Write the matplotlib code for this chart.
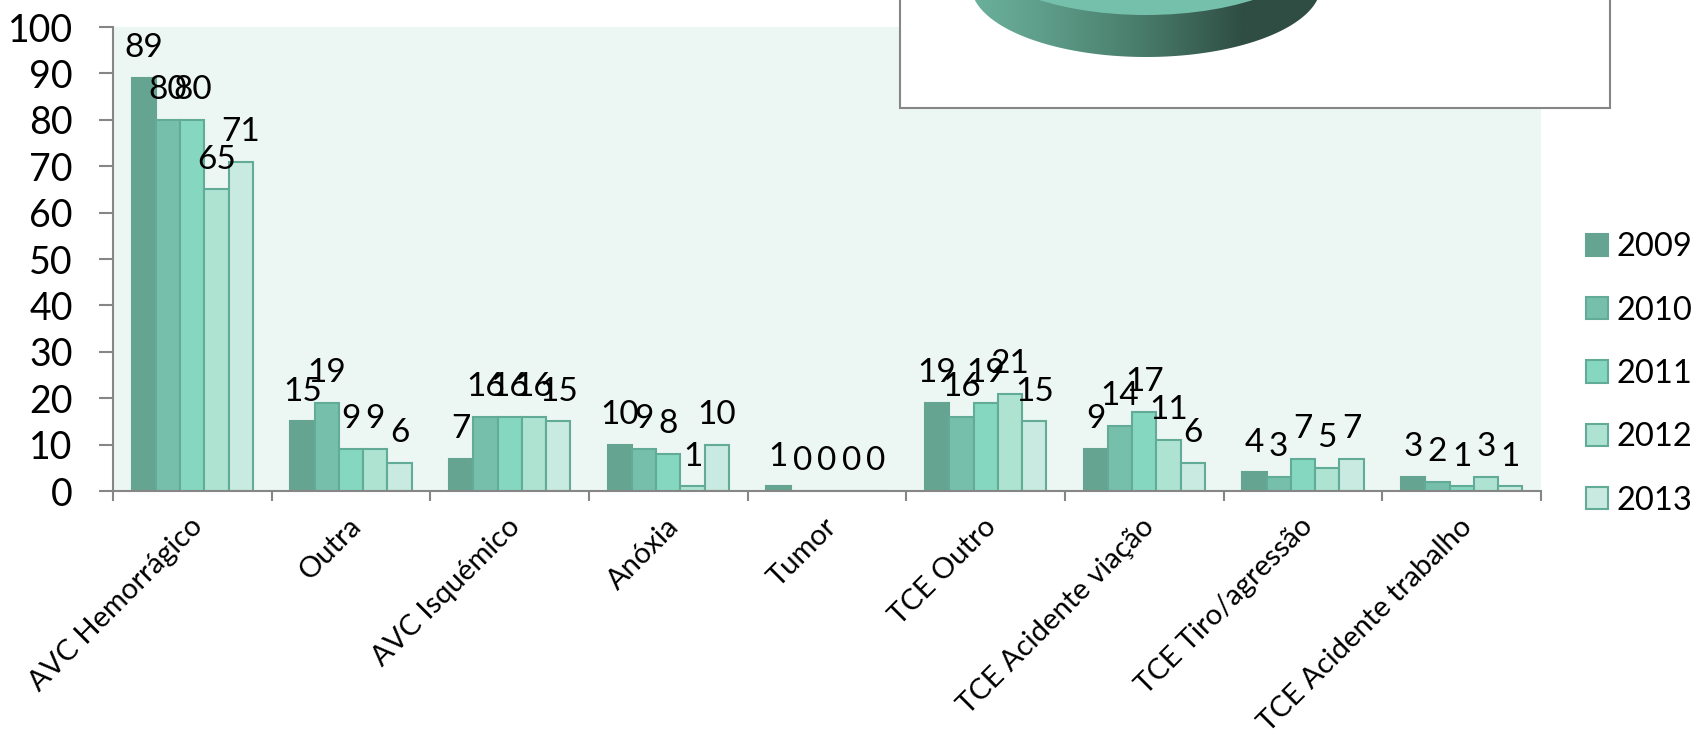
import numpy as np
import matplotlib
matplotlib.use("Agg")
import matplotlib.pyplot as plt
from matplotlib.colors import LinearSegmentedColormap
from matplotlib.patches import Ellipse, Patch, Polygon, Rectangle

plt.rcParams['font.family'] = ['Lato', 'DejaVu Sans']

# data
categories = ["AVC Hemorrágico", "Outra", "AVC Isquémico", "Anóxia", "Tumor",
              "TCE Outro", "TCE Acidente viação", "TCE Tiro/agressão",
              "TCE Acidente trabalho"]
years = ["2009", "2010", "2011", "2012", "2013"]
v2009 = [89, 15, 7, 10, 1, 19, 9, 4, 3]
v2010 = [80, 19, 16, 9, 0, 16, 14, 3, 2]
v2011 = [80, 9, 16, 8, 0, 19, 17, 7, 1]
v2012 = [65, 9, 16, 1, 0, 21, 11, 5, 3]
v2013 = [71, 6, 15, 10, 0, 15, 6, 7, 1]
series = [v2009, v2010, v2011, v2012, v2013]
colors = ["#65A490", "#76BFAA", "#85D8BF", "#AEE3D2", "#C9EAE0"]
edges = ["#65A490", "#62AB96", "#62AB96", "#62AB96", "#62AB96"]
grey = "#868686"

W, H = 1696, 733
fig = plt.figure(figsize=(W / 100, H / 100), dpi=100)
ax = fig.add_axes([113 / W, 1 - 491 / H, (1541 - 113) / W, (491 - 27) / H])
ax.set_facecolor("#ECF6F2")

# grouped bars
bw = 0.153
x = np.arange(len(categories))
for i, vals in enumerate(series):
    pos = x + (i - 2) * bw
    ax.bar(pos, vals, bw, color=colors[i], edgecolor=edges[i], linewidth=1.5)
    for px, v in zip(pos, vals):
        ax.annotate(str(v), (px, v), xytext=(0, 15), textcoords="offset points",
                    ha="center", va="baseline", fontsize=24, color="black")

ax.set_xlim(-0.5, len(categories) - 0.5)
ax.set_ylim(0, 100)
ax.set_yticks(range(0, 101, 10))
ax.tick_params(axis="y", length=10, width=1.5, color=grey, labelsize=27, pad=19)
ax.set_xticks(np.arange(len(categories) + 1) - 0.5)
ax.set_xticklabels([])
ax.tick_params(axis="x", length=7, width=1.5, color=grey)
for lab, cx in zip(categories, x):
    ax.annotate(lab, (cx - 0.02, 0), xytext=(0, -16), textcoords="offset points",
                rotation=45, rotation_mode="anchor", ha="right", va="top", fontsize=21)

for s in ["top", "right"]:
    ax.spines[s].set_visible(False)
for s in ["left", "bottom"]:
    ax.spines[s].set_color(grey)
    ax.spines[s].set_linewidth(1.5)

# legend
handles = [Patch(facecolor=c, edgecolor=e, linewidth=1.5) for c, e in zip(colors, edges)]
fig.legend(handles, years, loc="center left", bbox_to_anchor=(1586 / W, 1 - 374 / H),
           frameon=False, fontsize=23.5, handlelength=0.68, handleheight=0.68,
           handletextpad=0.24, labelspacing=1.02, borderpad=0, borderaxespad=0)

# overlapping pie picture box, cut off by the top edge
ov = fig.add_axes([0, 0, 1, 1], zorder=5)
ov.set_xlim(0, W)
ov.set_ylim(H, 0)
ov.axis("off")
ov.add_patch(Rectangle((900, -20), 710, 128, facecolor="white", edgecolor=grey, linewidth=1.5))

cx, a, b = 1146, 175, 72
yb, yt = -15, -57
t = np.linspace(0, np.pi, 200)
outline = np.column_stack([cx + a * np.cos(t), yb + b * np.sin(t)])
outline = np.vstack([outline, [[cx - a, yt], [cx + a, yt]]])
side = Polygon(outline, closed=True, facecolor="none", edgecolor="none")
ov.add_patch(side)
cmap = LinearSegmentedColormap.from_list(
    "pie", [(0, "#6BB19C"), (0.2, "#5E9E8A"), (0.5, "#487A69"), (0.78, "#2F4D43"), (1, "#2F4D43")])
im = ov.imshow(np.linspace(0, 1, 256).reshape(1, -1), cmap=cmap, aspect="auto",
               extent=(cx - a, cx + a, 60, -60), zorder=2)
im.set_clip_path(side)
ov.add_patch(Ellipse((cx, yt), 2 * a, 2 * b, facecolor="#75C0AB", edgecolor="none", zorder=3))
ov.set_xlim(0, W)
ov.set_ylim(H, 0)

fig.savefig("out.png", dpi=100)
